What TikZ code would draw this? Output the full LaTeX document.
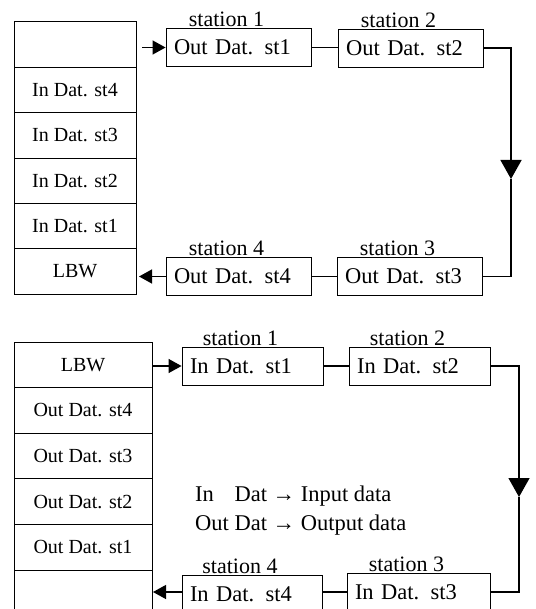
\documentclass[tikz,border=0pt]{standalone}
\usepackage{fontspec}
\setmainfont{Liberation Serif}
\usetikzlibrary{arrows.meta, positioning}

\begin{document}
\begin{tikzpicture}[x=1pt, y=-1pt,
    cell/.style={draw, line width=0.9pt, minimum height=45.4, outer sep=0pt,
                 inner sep=0pt, font=\fontsize{20}{24}\selectfont},
    stn/.style={draw, line width=0.9pt, minimum height=38, inner xsep=8pt,
                align=left, font=\fontsize{22.5}{26}\selectfont},
    lbl/.style={font=\fontsize{22}{26}\selectfont, inner sep=1pt, anchor=south},
    conn/.style={line width=1.3pt},
    arr/.style={conn, -{Triangle[length=13pt, width=14pt]}},
    bigarr/.style={conn, -{Triangle[length=19pt, width=21pt]}},
]
\useasboundingbox (0,0) rectangle (535,609);

% --- Buffer before the round (top) ---
\node[cell, minimum width=122] (tc1) at (75, 44.6) {};
\node[cell, minimum width=122, below=0pt of tc1] (tc2) {In Dat. st4};
\node[cell, minimum width=122, below=0pt of tc2] (tc3) {In Dat. st3};
\node[cell, minimum width=122, below=0pt of tc3] (tc4) {In Dat. st2};
\node[cell, minimum width=122, below=0pt of tc4] (tc5) {In Dat. st1};
\node[cell, minimum width=122, below=0pt of tc5] (tc6) {LBW};

\node[stn, text width=129] (ts1) at (238.5, 47.5) {Out Dat. st1};
\node[stn, text width=129] (ts2) at (410.5, 48) {Out Dat. st2};
\node[stn, text width=129] (ts3) at (409.5, 276.5) {Out Dat. st3};
\node[stn, text width=129] (ts4) at (238.5, 276.5) {Out Dat. st4};

\node[lbl] (tl1) at ([xshift=-12pt]ts1.north) {station 1};
\node[lbl] (tl2) at ([xshift=-12pt]ts2.north) {station 2};
\node[lbl] (tl3) at ([xshift=-12pt]ts3.north) {station 3};
\node[lbl] (tl4) at ([xshift=-12pt]ts4.north) {station 4};

\draw[arr, shorten <=6pt] (tc1.east |- ts1.west) -- (ts1.west);
\draw[conn] (ts1.east) -- (ts2.west |- ts1.east);
\coordinate (tr) at (511, 179);
\draw[bigarr] (ts2.east) -| (tr);
\draw[conn] (tr) |- (ts3.east);
\draw[conn] (ts3.west) -- (ts4.east);
\draw[arr, shorten >=3pt] (ts4.west) -- (tc6.east |- ts4.west);

% --- Buffer after the round (bottom) ---
\node[cell, minimum width=138, minimum height=45.6] (bc1) at (83, 364.8) {LBW};
\node[cell, minimum width=138, minimum height=45.6, below=0pt of bc1] (bc2) {Out Dat. st4};
\node[cell, minimum width=138, minimum height=45.6, below=0pt of bc2] (bc3) {Out Dat. st3};
\node[cell, minimum width=138, minimum height=45.6, below=0pt of bc3] (bc4) {Out Dat. st2};
\node[cell, minimum width=138, minimum height=45.6, below=0pt of bc4] (bc5) {Out Dat. st1};
\node[cell, minimum width=138, minimum height=45.6, below=0pt of bc5] (bc6) {};

\node[stn, text width=125] (bs1) at (252.5, 366) {In Dat. st1};
\node[stn, text width=125] (bs2) at (419.5, 366) {In Dat. st2};
\node[stn, text width=127] (bs3) at (418.5, 592) {In Dat. st3};
\node[stn, text width=124] (bs4) at (252, 594) {In Dat. st4};

\node[lbl] (bl1) at ([xshift=-12pt]bs1.north) {station 1};
\node[lbl] (bl2) at ([xshift=-12pt]bs2.north) {station 2};
\node[lbl] (bl3) at ([xshift=-12pt]bs3.north) {station 3};
\node[lbl] (bl4) at ([xshift=-12pt]bs4.north) {station 4};

\draw[arr] (bc1.east |- bs1.west) -- (bs1.west);
\draw[conn] (bs1.east) -- (bs2.west |- bs1.east);
\coordinate (br) at (519, 497);
\draw[bigarr] (bs2.east) -| (br);
\draw[conn] (br) |- (bs3.east);
\draw[conn] (bs3.west) -- (bs4.east |- bs3.west);
\draw[arr, shorten >=1pt] (bs4.west |- bs3.west) -- (bc6.east |- bs3.west);

% Legend
\node[anchor=west, inner sep=0pt, font=\fontsize{22.5}{26}\selectfont]
    (legend) at (195, 510.5)
    {\renewcommand\arraystretch{1.1}%
     \begin{tabular}{@{}l@{\ }l@{\ }l@{}}
     In & Dat & → Input data\\
     Out & Dat & → Output data
     \end{tabular}};

\end{tikzpicture}
\end{document}
